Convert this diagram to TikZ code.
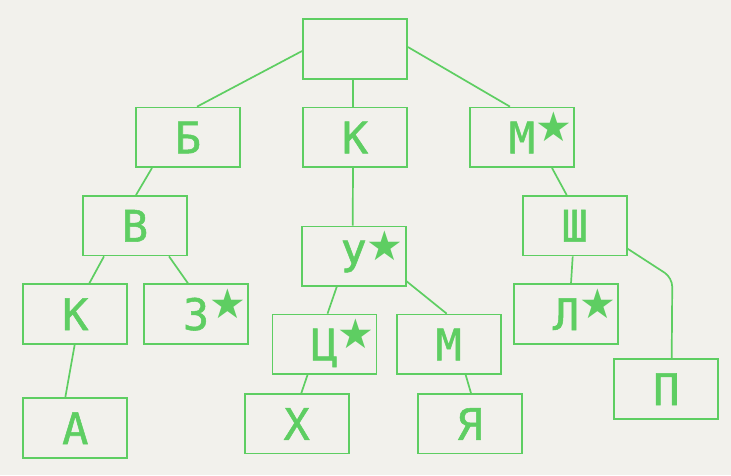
\documentclass[tikz,border=0pt]{standalone}
\usepackage{fontspec}
\usepackage{tikz}
\usetikzlibrary{positioning}
\newfontfamily\treefont[FakeBold=1.2]{DejaVu Sans Mono}
\newfontfamily\starfont{DejaVu Sans}
\definecolor{leafgreen}{RGB}{94,206,98}
\definecolor{paper}{RGB}{242,241,236}
\newcommand{\starmark}{\rlap{\raisebox{12pt}{\fontsize{41}{41}\starfont ★}}}

\begin{document}
\begin{tikzpicture}[x=1pt, y=-1pt,
                          squarednode/.style={rectangle, draw=leafgreen, line width=1.8pt, minimum width=104pt, minimum height=59.5pt,
                                              inner sep=0pt, text=leafgreen, text height=32pt, text depth=0pt,
                                              font=\fontsize{43.5}{44}\treefont},
                          edge/.style={draw=leafgreen, line width=1.7pt},
                      ]
                      \fill[paper] (0,0) rectangle (731,475);
                      \useasboundingbox (0,0) rectangle (731,475);
                      %Nodes
                      \node[squarednode]    (root)   at (355,49)       {};
                      \node[squarednode]    (b)      at (188,137.3)    {Б};
                      \node[squarednode]    (k_1)    at (355,137.3)    {К};
                      \node[squarednode]    (m_1)    at (522,137.3)    {М\starmark};
                      \node[squarednode]    (v)      at (135,225.7)    {В};
                      \node[squarednode]    (u)      at (353.7,256.3)  {У\starmark};
                      \node[squarednode]    (sh)     at (574.7,225.7)  {Ш};
                      \node[squarednode]    (k_2)    at (75.3,314)     {К};
                      \node[squarednode]    (z)      at (196,314)      {З\starmark};
                      \node[squarednode]    (ts)     at (324.5,344.3)  {Ц\starmark};
                      \node[squarednode]    (m_2)    at (448.7,344.3)  {М};
                      \node[squarednode]    (l)      at (566,314)      {Л\starmark};
                      \node[squarednode]    (a)      at (75.3,428)     {А};
                      \node[squarednode]    (kh)     at (296.7,423.8)  {Х};
                      \node[squarednode]    (ya)     at (469.7,423.8)  {Я};
                      \node[squarednode]    (p)      at (666.3,389)    {П};

                      %Lines
                      \draw[edge] ([yshift=-2pt]root.west) -- ([xshift=9pt]b.north);
                      \draw[edge] ([xshift=-2pt]root.south) -- ([xshift=-2pt]k_1.north);
                      \draw[edge] ([yshift=2pt]root.east) -- ([xshift=-12pt]m_1.north);
                      \draw[edge] ([xshift=-36pt]b.south) -- ([xshift=1pt]v.north);
                      \draw[edge] ([xshift=-31pt]v.south) -- ([xshift=14pt]k_2.north);
                      \draw[edge] ([xshift=34pt]v.south) -- ([xshift=-8pt]z.north);
                      \draw[edge] ([xshift=-0.6pt]k_2.south) -- ([xshift=-10pt]a.north);
                      \draw[edge] ([xshift=-2pt]k_1.south) -- ([xshift=-1pt]u.north);
                      \draw[edge] ([xshift=-17pt]u.south) -- ([xshift=3pt]ts.north);
                      \draw[edge] ([xshift=-17pt]ts.south) -- ([xshift=4.6pt]kh.north);
                      \draw[edge] ([yshift=-25pt]u.east) -- ([xshift=-2pt]m_2.north);
                      \draw[edge] ([xshift=17pt]m_2.south) -- ([xshift=1.3pt]ya.north);
                      \draw[edge] ([xshift=30pt]m_1.south) -- ([xshift=-8pt]sh.north);
                      \draw[edge] ([xshift=-2pt]sh.south) -- ([xshift=5pt]l.north);
                      \draw[edge, rounded corners=9pt] ([yshift=-23pt]sh.east) -- ([xshift=44.7pt,yshift=-52pt]sh.east) -- ([xshift=5.4pt]p.north);
                  \end{tikzpicture}
\end{document}
